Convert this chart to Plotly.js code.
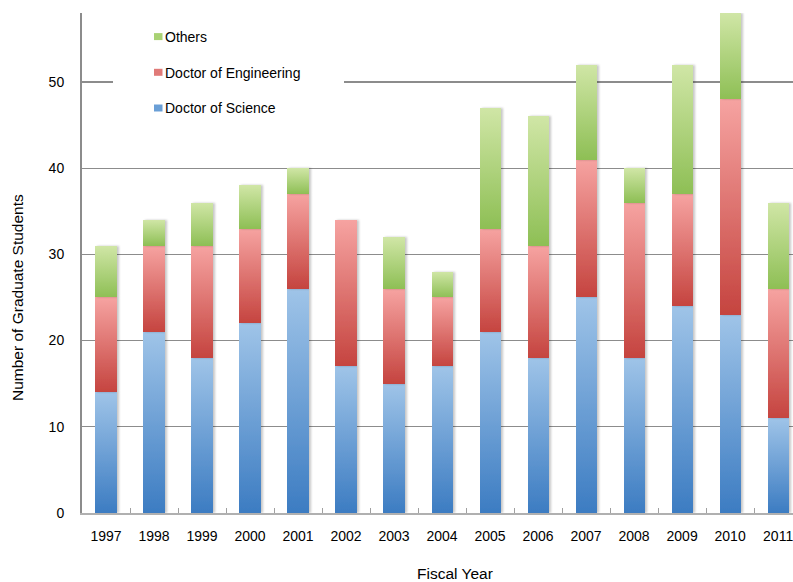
<!DOCTYPE html>
<html>
<head>
<meta charset="utf-8">
<script src="https://cdn.plot.ly/plotly-3.0.1.min.js"></script>
<style>html,body{margin:0;padding:0;background:#fff;}#chart{width:793px;height:582px;}</style>
</head>
<body>
<div id="chart"></div>
<script>
const years = ['1997','1998','1999','2000','2001','2002','2003','2004','2005','2006','2007','2008','2009','2010','2011'];
const doctorOfScience = [14,21,18,22,26,17,15,17,21,18,25,18,24,23,11];
const doctorOfEngineering = [11,10,13,11,11,17,11,8,12,13,16,18,13,25,15];
const others = [6,3,5,5,3,0,6,3,14,15,11,4,15,10,10];
const yTicks = [0,10,20,30,40,50];

const FONT = 'Liberation Sans, Arial, sans-serif';
const L = 82, R = 0, T = 13, B = 69, W = 793, H = 582;
const pw = W - L - R, ph = H - T - B;
const px = v => (v - L) / pw;
const py = v => (H - B - v) / ph;

const traces = [
  {name:'Doctor of Science', y:doctorOfScience, color:'#6a9fd6', group:'a', rank:3},
  {name:'Doctor of Engineering', y:doctorOfEngineering, color:'#e07a78', group:'b', rank:2},
  {name:'Others', y:others, color:'#a9d274', group:'c', rank:1}
].map(t => ({
  type:'bar', x:years, y:t.y, name:t.name, width:0.44, legendgroup:t.group, legendrank:t.rank,
  marker:{color:t.color, line:{width:0}}, hoverinfo:'skip'
}));

const layout = {
  width:W, height:H,
  margin:{l:L, r:R, t:T, b:B, pad:0},
  barmode:'stack',
  paper_bgcolor:'#fff', plot_bgcolor:'#fff',
  font:{family:FONT, size:14, color:'#000'},
  showlegend:true,
  legend:{x:px(125), xanchor:'left', y:py(21), yanchor:'top', bgcolor:'rgba(0,0,0,0)',
          traceorder:'grouped', tracegroupgap:14.5, font:{size:14, family:FONT}},
  xaxis:{type:'category', range:[-0.5, 14.31], showgrid:false, showline:true, linecolor:'#b0b0b0', linewidth:2,
         ticks:'inside', tickson:'boundaries', ticklen:5, tickcolor:'#a0a0a0', tickwidth:1,
         ticklabelstandoff:9, tickfont:{size:14}, zeroline:false, fixedrange:true},
  yaxis:{range:[0,58], tickvals:yTicks, ticktext:yTicks.map(String), showgrid:true, gridcolor:'#8c8c8c', gridwidth:1.3,
         showline:true, linecolor:'#8c8c8c', linewidth:2, ticks:'', ticklabelstandoff:13,
         tickfont:{size:14}, zeroline:false, fixedrange:true},
  shapes:[{type:'rect', xref:'paper', yref:'paper', x0:px(113), x1:px(344), y0:py(100), y1:py(60),
           fillcolor:'#fff', line:{width:0}, layer:'above'}],
  annotations:[
    {text:'Number of Graduate Students', xref:'paper', yref:'paper', x:0, xshift:17-L, y:py(298),
     textangle:-90, showarrow:false, xanchor:'center', yanchor:'middle', font:{size:15.5, family:FONT}},
    {text:'Fiscal Year', xref:'paper', yref:'paper', x:px(455), y:0, yshift:-(573-(H-B)),
     showarrow:false, xanchor:'center', yanchor:'middle', font:{size:15.5, family:FONT}}
  ]
};

Plotly.newPlot('chart', traces, layout, {staticPlot:true, displayModeBar:false}).then(gd => {
  const svg = gd.querySelector('svg.main-svg');
  const NS = 'http://www.w3.org/2000/svg';
  let defs = svg.querySelector('defs');
  if (!defs) { defs = document.createElementNS(NS,'defs'); svg.insertBefore(defs, svg.firstChild); }
  const grads = {gB:['#3c7cc2','#9fc4e8'], gR:['#c5443f','#f6a3a1'], gG:['#8ebf55','#d0e6a6']};
  Object.keys(grads).forEach(id => {
    const g = document.createElementNS(NS,'linearGradient');
    g.setAttribute('id', id); g.setAttribute('x1','0'); g.setAttribute('y1','1'); g.setAttribute('x2','0'); g.setAttribute('y2','0');
    [[0,grads[id][0]],[1,grads[id][1]]].forEach(([o,c]) => {
      const s = document.createElementNS(NS,'stop'); s.setAttribute('offset', o); s.setAttribute('stop-color', c); g.appendChild(s);
    });
    defs.appendChild(g);
  });
  const f = document.createElementNS(NS,'filter');
  f.setAttribute('id','barShadow'); f.setAttribute('x','-20%'); f.setAttribute('y','-5%'); f.setAttribute('width','150%'); f.setAttribute('height','110%');
  const ds = document.createElementNS(NS,'feDropShadow');
  ds.setAttribute('dx','2'); ds.setAttribute('dy','0'); ds.setAttribute('stdDeviation','1');
  ds.setAttribute('flood-color','#000'); ds.setAttribute('flood-opacity','0.22');
  f.appendChild(ds); defs.appendChild(f);
  const ids = ['gB','gR','gG'];
  gd.querySelectorAll('.barlayer .trace.bars').forEach((tr, i) => {
    tr.querySelectorAll('path').forEach(p => { p.style.fill = 'url(#' + ids[i] + ')'; p.setAttribute('filter','url(#barShadow)'); });
  });
  gd.querySelectorAll('.legend .legendpoints path').forEach(p => {
    p.setAttribute('d','M17.5,3.5H9V-3.5H17.5Z');
  });
});
</script>
</body>
</html>
